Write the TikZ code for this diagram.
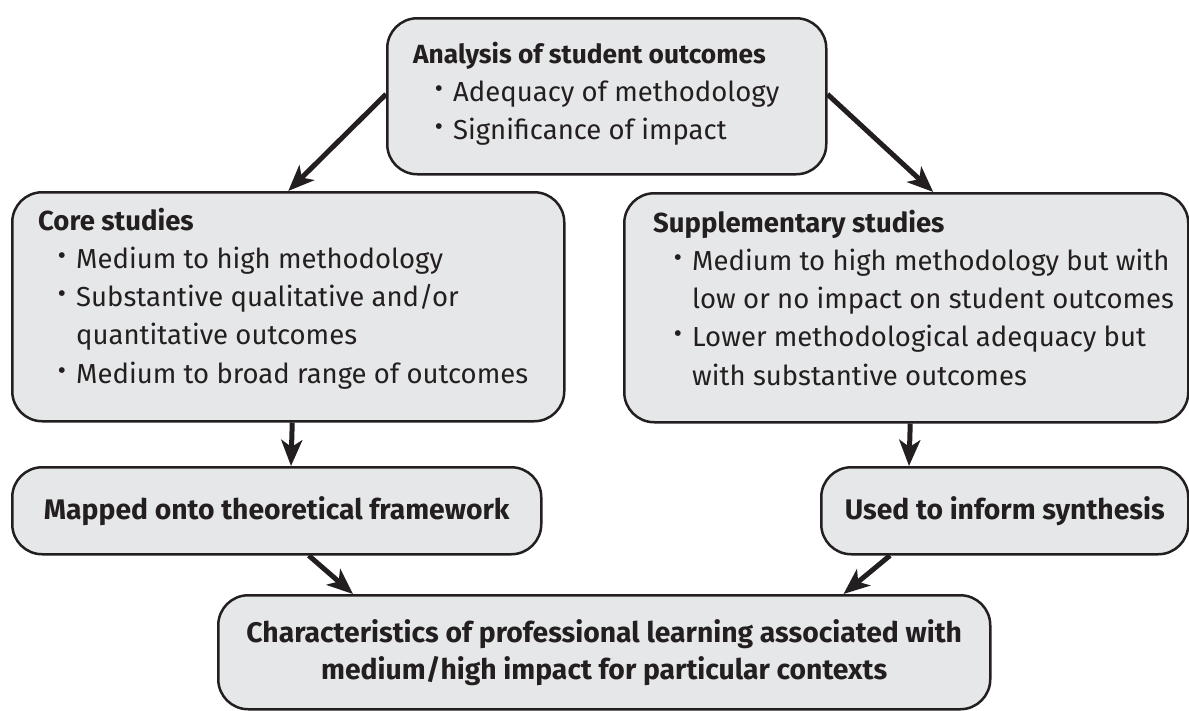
\documentclass[tikz,border=0pt]{standalone}
\usepackage{fontspec}
\setmainfont{Fira Sans}
\newfontfamily\bulfont{DejaVu Sans}
\usetikzlibrary{arrows.meta,calc}
\definecolor{boxfill}{HTML}{E6E7E8}
\definecolor{ink}{HTML}{231F20}
\newcommand{\bul}{\llap{\raisebox{11pt}{\bulfont\fontsize{7.5}{7.5}\selectfont ●}\hspace{11pt}}}
\begin{document}
\begin{tikzpicture}[x=1pt,y=-1pt,
  box/.style={draw=ink, fill=boxfill, line width=2.5pt, rounded corners=30pt,
    inner sep=0pt, anchor=north west, text=ink, align=center,
    font=\fontsize{28.3}{37}\selectfont\bfseries},
  arr/.style={draw=ink, line width=5pt,
    -{Stealth[length=26pt,width=21pt,inset=7pt]}},
  txt/.style={inner sep=0pt, anchor=base west, text=ink,
    font=\fontsize{27.5}{38.3}\selectfont}]
\useasboundingbox (0,0) rectangle (1189,710);
% boxes
\node[box, minimum width=439pt, minimum height=156pt] (top) at (386,17) {};
\node[box, minimum width=552pt, minimum height=229pt] (core) at (11,191) {};
\node[box, minimum width=564pt, minimum height=229pt] (supp) at (623,192) {};
\node[box, minimum width=529pt, minimum height=87pt] (mapped) at (11,466)
  {Mapped onto theoretical framework};
\node[box, minimum width=367pt, minimum height=87pt] (used) at (820,466)
  {Used to inform synthesis};
\node[box, minimum width=772pt, minimum height=114pt] (char) at (217,594)
  {Characteristics of professional learning associated with\\
   medium/high impact for particular contexts};
% box texts
\node[txt] (toptxt) at (413,63) {\parbox[t]{420pt}{\baselineskip=38.3pt
  {\fontsize{26.3}{38.3}\selectfont\bfseries Analysis of student outcomes}\\
  \hspace*{40pt}\bul Adequacy of methodology\\
  \hspace*{40pt}\bul Significance of impact}};
\node[txt] (coretxt) at (38,230) {\parbox[t]{520pt}{\baselineskip=38.3pt
  \textbf{Core studies}\\
  \hspace*{38pt}\bul Medium to high methodology\\
  \hspace*{38pt}\bul Substantive qualitative and/or\\
  \hspace*{38pt}quantitative outcomes\\
  \hspace*{38pt}\bul Medium to broad range of outcomes}};
\node[txt] (supptxt) at (653,232) {\parbox[t]{530pt}{\baselineskip=38.3pt
  \textbf{Supplementary studies}\\
  \hspace*{39pt}\bul Medium to high methodology but with\\
  \hspace*{39pt}low or no impact on student outcomes\\
  \hspace*{39pt}\bul Lower methodological adequacy but\\
  \hspace*{39pt}with substantive outcomes}};
% connectors
\draw[arr] ($(top.west)+(0,-2)$) -- (core.north);
\draw[arr] ($(top.east)+(0,-2)$) -- ($(supp.north)+(27,0)$);
\draw[arr] ($(core.south)+(4,0)$) -- ($(mapped.north west)+(280,0)$);
\draw[arr] ($(supp.south)+(4,0)$) -- ($(used.north west)+(89,0)$);
\draw[arr] ($(mapped.south)+(32,0)$) -- ($(char.north west)+(136,0)$);
\draw[arr] ($(used.south west)+(70,0)$) -- ($(char.north east)+(-148,0)$);
\end{tikzpicture}
\end{document}
